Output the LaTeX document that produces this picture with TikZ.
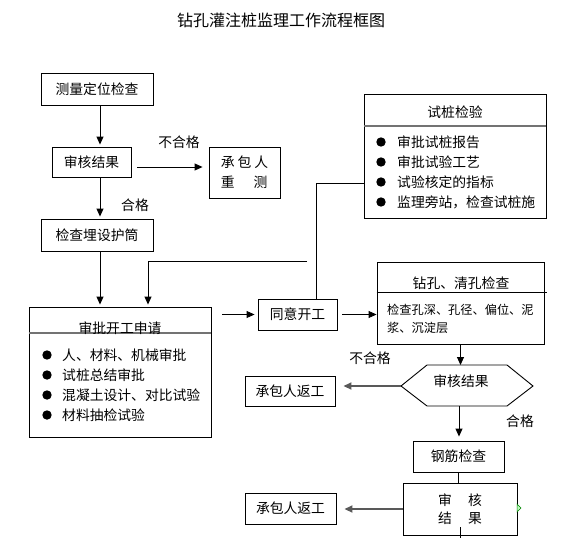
\documentclass[tikz,border=0pt]{standalone}
\usepackage{fontspec}
\setmainfont{Noto Sans CJK SC}
\usetikzlibrary{arrows.meta,calc,positioning}

\tikzset{
  box/.style={draw, line width=0.9pt, inner sep=0pt, align=center, font=\fontsize{13.8}{16}\selectfont},
  txt/.style={inner sep=0pt, font=\fontsize{13.8}{16}\selectfont},
  item/.style={txt, anchor=west},
  arr/.style={-{Triangle[length=8pt,width=7pt]}, line width=0.9pt, shorten >=2pt},
  grayarr/.style={-{Triangle[length=8pt,width=7pt]}, draw=black!65, line width=1.8pt, shorten >=8pt},
  divider/.style={draw=black!55, line width=1.6pt},
}

\begin{document}
\begin{tikzpicture}[x=1pt,y=-1pt]
        \useasboundingbox (0,0) rectangle (564,538);
        \node[font=\fontsize{16}{18}\selectfont] (title) at (281,20) {钻孔灌注桩监理工作流程框图};

        % Left column
        \node[box, minimum width=112pt, minimum height=32pt] (survey) at (97,89) {测量定位检查};
        \node[box, minimum width=79pt, minimum height=30pt] (check1) at (91.5,162) {审核结果};
        \node[box, minimum width=71pt, minimum height=51pt, align=left] (redo) at (244.5,172.5) {承\hspace{3pt}包\hspace{3pt}人\\[4pt]重\hspace{19pt}测};
        \node[box, minimum width=112pt, minimum height=32pt] (sleeve) at (97,235) {检查埋设护筒};
        \node[txt] (fail1) at (179,142) {不合格};
        \node[txt] (pass1) at (135,205) {合格};

        \draw[arr] ([xshift=3pt]survey.south) -- ([xshift=3pt]survey.south |- check1.north);
        \draw[arr] ([xshift=6pt,yshift=-5pt]check1.east) -- ([xshift=-4pt,yshift=5.5pt]redo.west);
        \draw[arr] ([xshift=8.5pt]check1.south) -- ([xshift=8.5pt]check1.south |- sleeve.north);

        % Approval of start
        \node[box, minimum width=182pt, minimum height=130pt] (approve) at (120,372) {};
        \draw[divider] (approve.west |- 0,333) -- (approve.east |- 0,333);
        \node[txt] (approvetitle) at (120,328) {审批开工申请};
        \foreach \t [count=\i] in {人、材料、机械审批, 试桩总结审批, 混凝土设计、对比试验, 材料抽检试验} {
            \fill (47,{335+20*\i}) circle (4.7pt);
            \node[item] (ap\i) at (62,{335+20*\i}) {\t};
        }
        \draw[arr] ([xshift=3pt]sleeve.south) -- ([xshift=3pt]sleeve.south |- approve.north);
        \coordinate (feed) at (307,261);
        \draw[arr] (feed) -| ([xshift=28pt]approve.north);

        % Trial pile
        \node[box, minimum width=182pt, minimum height=124pt] (trial) at (455,156) {};
        \draw[divider] (trial.west |- 0,126) -- (trial.east |- 0,126);
        \node[txt] (trialtitle) at (455,112) {试桩检验};
        \foreach \t [count=\i] in {审批试桩报告, 审批试验工艺, 试验核定的指标, 监理旁站，检查试桩施} {
            \fill (381,{122+20*\i}) circle (4.7pt);
            \node[item] (tr\i) at (397,{122+20*\i}) {\t};
        }

        % Start and drilling
        \node[box, minimum width=79pt, minimum height=31pt] (agree) at (297.5,314.5) {同意开工};
        \draw[line width=0.9pt] ([yshift=-27pt]trial.west) -| ([xshift=18.5pt]agree.north);
        \draw[arr] ([xshift=11pt]approve.east |- agree.west) -- ([xshift=-1pt]agree.west);

        \node[box, minimum width=167pt, minimum height=82pt] (drill) at (460.5,303) {};
        \draw[line width=0.9pt] (drill.west |- 0,292) -- (547,292);
        \node[txt] (drilltitle) at (461,283) {钻孔、清孔检查};
        \node[item, font=\fontsize{12.2}{18}\selectfont, align=left] (drillbody) at (387,319) {检查孔深、孔径、偏位、泥\\浆、沉淀层};
        \draw[arr, shorten >=0pt] ([xshift=5pt]agree.east) -- (agree.east -| drill.west);

        % Hole check result
        \coordinate (hexleft) at (401,386);
        \coordinate (hextop) at (460.5,365);
        \coordinate (hexbot) at (459,406);
        \draw[line width=0.9pt] (hexleft) -- (427,365) -- (507,365) -- (533,386) -- (507,406) -- (427,406) -- cycle;
        \node[txt] (hex) at (461,381) {审核结果};
        \node[txt] (fail2) at (370,358) {不合格};
        \node[txt] (pass2) at (520,421) {合格};
        \draw[arr, shorten >=0pt] (drill.south) -- (hextop);

        \node[box, minimum width=90pt, minimum height=30pt] (rework1) at (290,391) {承包人返工};
        \draw[grayarr] (hexleft) -- (hexleft -| rework1.east);

        % Rebar check
        \node[box, minimum width=91pt, minimum height=31pt] (rebar) at (458.5,456.5) {钢筋检查};
        \draw[arr, shorten >=4pt] (hexbot) -- (hexbot |- rebar.north);
        \node[box, minimum width=114pt, minimum height=52pt] (check2) at (460,509) {审\hspace{16pt}核\\[2pt]结\hspace{16pt}果};
        \draw[line width=0.9pt] (rebar.south) -- (rebar.south |- check2.north);
        \draw[line width=0.9pt] ([yshift=8pt]check2.south) -- ([yshift=-3pt]check2.south);
        \draw[green!50!black, fill=green!25, line width=0.5pt] (517,504) -- (521,508) -- (517,512) -- cycle;

        \node[box, minimum width=91pt, minimum height=31pt] (rework2) at (290.5,508.5) {承包人返工};
        \draw[grayarr] (check2.west) -- (check2.west -| rework2.east);
    \end{tikzpicture}
\end{document}
